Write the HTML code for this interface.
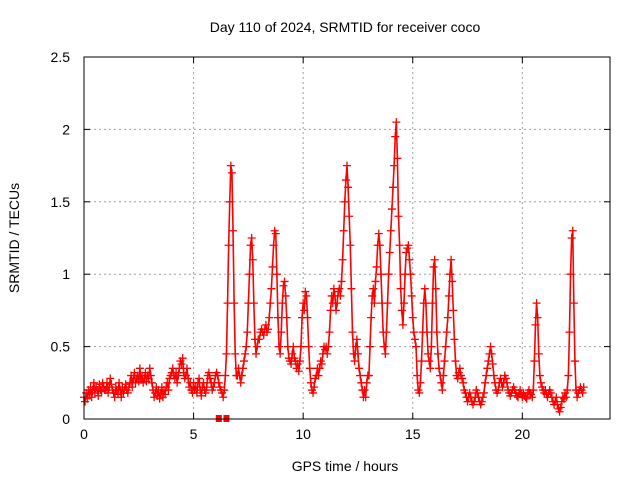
<!DOCTYPE html>
<html><head><meta charset="utf-8"><style>
body{margin:0;background:#fff}
text{font-family:"Liberation Sans",sans-serif;font-size:14px;fill:#000}
</style></head><body>
<svg id="chart" width="640" height="480" viewBox="0 0 640 480" xmlns="http://www.w3.org/2000/svg">
<text x="345" y="32" text-anchor="middle">Day 110 of 2024, SRMTID for receiver coco</text>
<text transform="translate(19,238) rotate(-90)" text-anchor="middle">SRMTID / TECUs</text>
<text x="345" y="471" text-anchor="middle">GPS time / hours</text>
<g id="grid"></g><g id="axes"></g><g id="marks"></g>
<rect x="84" y="57" width="526" height="362" fill="none" stroke="#000" stroke-width="1"/>
</svg>
<script>
const xTicks=[0,5,10,15,20];
const yTicks=[0,0.5,1,1.5,2,2.5];
const yTickLabels=["0","0.5","1","1.5","2","2.5"];
const step=0.05;
const srmtid=[
0.15,0.12,0.18,0.14,0.2,0.17,0.22,0.15,0.2,0.25,0.18,0.22,0.2,0.16,0.24,0.2,0.19,0.25,0.22,0.2,
0.2,0.25,0.18,0.22,0.28,0.24,0.2,0.18,0.15,0.22,0.2,0.17,0.25,0.2,0.15,0.22,0.18,0.2,0.24,0.2,
0.18,0.22,0.25,0.3,0.22,0.28,0.32,0.25,0.28,0.3,0.26,0.35,0.27,0.3,0.25,0.28,0.32,0.26,0.3,0.28,
0.35,0.3,0.25,0.2,0.15,0.18,0.22,0.16,0.2,0.14,0.18,0.22,0.15,0.2,0.17,0.22,0.25,0.2,0.28,0.3,
0.32,0.35,0.3,0.28,0.32,0.25,0.3,0.35,0.4,0.38,0.42,0.32,0.28,0.3,0.35,0.28,0.22,0.25,0.2,0.18,
0.25,0.2,0.22,0.18,0.25,0.28,0.2,0.16,0.22,0.25,0.2,0.18,0.22,0.3,0.32,0.28,0.25,0.2,0.22,0.25,
0.3,0.32,0.3,0.25,0.22,0.2,0.18,0.15,0.2,0.3,0.45,0.8,1.2,1.5,1.75,1.7,1.3,0.8,0.45,0.3,
0.3,0.35,0.3,0.25,0.3,0.35,0.4,0.45,0.5,0.6,0.8,1.0,1.2,1.25,1.1,0.8,0.55,0.45,0.5,0.55,
0.55,0.6,0.62,0.6,0.58,0.62,0.65,0.6,0.62,0.7,0.8,0.9,1.05,1.2,1.3,1.28,1.0,0.7,0.5,0.45,
0.6,0.8,0.92,0.95,0.85,0.7,0.5,0.42,0.4,0.38,0.45,0.5,0.42,0.4,0.35,0.38,0.33,0.4,0.5,0.7,
0.8,0.75,0.88,0.85,0.7,0.5,0.35,0.25,0.2,0.18,0.22,0.28,0.3,0.35,0.3,0.35,0.4,0.38,0.45,0.5,
0.48,0.5,0.45,0.5,0.6,0.75,0.85,0.8,0.9,0.85,0.75,0.8,0.88,0.9,0.85,0.95,1.1,1.3,1.5,1.65,
1.75,1.6,1.4,1.2,0.9,0.6,0.45,0.4,0.5,0.55,0.45,0.35,0.3,0.25,0.2,0.15,0.2,0.15,0.25,0.3,
0.3,0.5,0.7,0.85,0.9,0.8,0.95,1.05,1.2,1.28,1.2,1.0,0.8,0.6,0.5,0.45,0.6,0.8,1.0,1.15,
1.3,1.45,1.6,1.75,1.95,2.05,1.8,1.4,1.2,0.9,0.75,0.65,0.8,1.0,1.15,1.18,1.2,1.1,1.0,0.85,
0.7,0.6,0.55,0.5,0.3,0.2,0.18,0.25,0.4,0.6,0.8,0.9,0.8,0.6,0.45,0.4,0.35,0.5,0.8,1.05,
1.1,0.9,0.6,0.45,0.35,0.3,0.25,0.2,0.3,0.4,0.5,0.6,0.7,0.85,1.0,1.1,0.95,0.75,0.55,0.4,
0.3,0.28,0.32,0.35,0.3,0.28,0.25,0.2,0.18,0.15,0.12,0.15,0.18,0.15,0.12,0.1,0.12,0.15,0.2,0.18,
0.15,0.12,0.1,0.12,0.15,0.18,0.25,0.3,0.35,0.4,0.45,0.5,0.45,0.38,0.3,0.25,0.2,0.18,0.2,0.25,
0.28,0.25,0.22,0.25,0.3,0.28,0.25,0.2,0.18,0.16,0.18,0.2,0.22,0.2,0.18,0.16,0.15,0.18,0.2,0.17,
0.15,0.18,0.16,0.15,0.14,0.18,0.2,0.18,0.17,0.15,0.2,0.4,0.65,0.8,0.7,0.45,0.3,0.25,0.22,0.2,
0.18,0.2,0.17,0.15,0.18,0.2,0.18,0.15,0.12,0.1,0.12,0.15,0.1,0.07,0.05,0.08,0.12,0.15,0.14,0.18,
0.15,0.2,0.3,0.6,1.0,1.25,1.3,0.8,0.4,0.2,0.15,0.18,0.2,0.22,0.2,0.18,0.22];
const zeroTimes=[6.15,6.5];
const NS="http://www.w3.org/2000/svg";
const X0=84,X1=610,Y0=419,Y1=57,XMAX=24,YMAX=2.5;
function xs(t){return X0+(X1-X0)*t/XMAX;}
function ys(v){return Y0-(Y0-Y1)*v/YMAX;}
function mk(tag,attrs,parent){const e=document.createElementNS(NS,tag);for(const k in attrs)e.setAttribute(k,attrs[k]);parent.appendChild(e);return e;}
const grid=document.getElementById('grid'),axes=document.getElementById('axes'),marks=document.getElementById('marks');
xTicks.forEach(t=>{const x=xs(t);
 if(t>0){const g=mk('line',{x1:x,x2:x,y1:Y0,y2:Y1,stroke:'#a0a0a0','stroke-dasharray':'2,3'},grid);
 
 }
 mk('line',{x1:x,x2:x,y1:Y0,y2:Y0-6,stroke:'#000'},axes);
 mk('line',{x1:x,x2:x,y1:Y1,y2:Y1+6,stroke:'#000'},axes);
 const l=mk('text',{x:x,y:Y0+20,'text-anchor':'middle'},axes);l.textContent=t;
 
 
});
yTicks.forEach((v,i)=>{const y=ys(v);
 if(v>0&&v<YMAX){const g=mk('line',{x1:X0,x2:X1,y1:y,y2:y,stroke:'#a0a0a0','stroke-dasharray':'2,3'},grid);
 
 }
 mk('line',{x1:X0,x2:X0+6,y1:y,y2:y,stroke:'#000'},axes);
 mk('line',{x1:X1,x2:X1-6,y1:y,y2:y,stroke:'#000'},axes);
 const l=mk('text',{x:X0-14,y:y+5,'text-anchor':'end'},axes);l.textContent=yTickLabels[i];
 
 
});
const trace=mk('polyline',{points:srmtid.map((v,i)=>xs(i*step)+','+ys(v)).join(' '),stroke:'#f00','stroke-width':1.6,fill:'none'},marks);


srmtid.forEach((v,i)=>{const x=xs(i*step),y=ys(v);
 const p=mk('path',{d:`M${x-4},${y}h8M${x},${y-4}v8`,stroke:'#f00','stroke-width':1.3,fill:'none'},marks);
 
 
});
zeroTimes.forEach(t=>{const r=mk('rect',{x:xs(t)-3,y:Y0-4,width:6,height:7,fill:'#f00'},marks);
 
 
});
</script>
</body></html>
